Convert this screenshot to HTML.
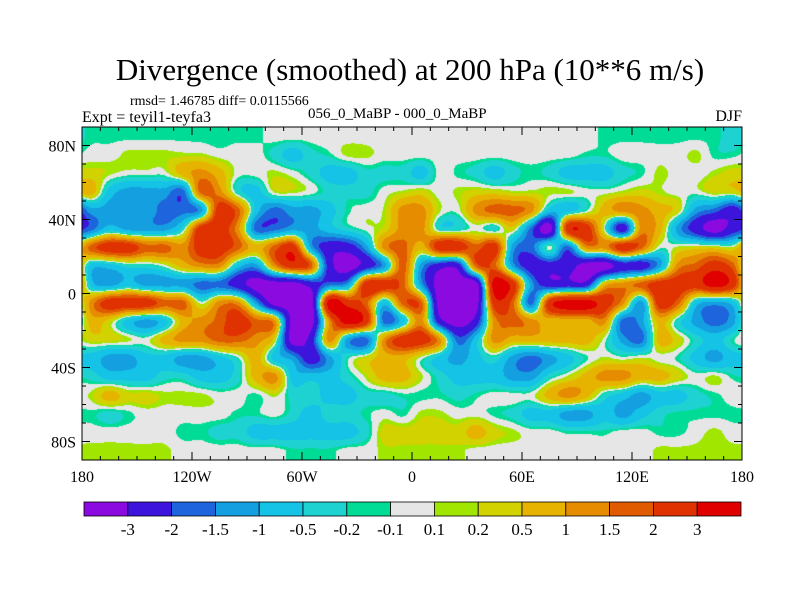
<!DOCTYPE html>
<html><head><meta charset="utf-8"><style>
body{margin:0;background:#fff;width:800px;height:600px;overflow:hidden;position:relative;font-family:"Liberation Serif",serif;}
.t{position:absolute;white-space:nowrap;color:#000;}
</style></head><body>
<div class="t" style="left:0;width:820px;text-align:center;top:52px;font-size:31px;">Divergence (smoothed) at 200 hPa (10**6 m/s)</div>
<div class="t" style="left:130px;top:94px;font-size:14px;">rmsd= 1.46785 diff= 0.0115566</div>
<div class="t" style="left:82px;top:109px;font-size:16px;">Expt = teyil1-teyfa3</div>
<div class="t" style="left:308px;top:106px;font-size:15px;">056_0_MaBP - 000_0_MaBP</div>
<div class="t" style="right:58px;top:108px;font-size:16px;">DJF</div>
<canvas id="cv" width="660" height="333" style="position:absolute;left:82px;top:127px;"></canvas>
<svg id="ov" width="800" height="600" style="position:absolute;left:0;top:0;"></svg>
<script>
const levels=[-3,-2,-1.5,-1,-0.5,-0.2,-0.1,0.1,0.2,0.5,1,1.5,2,3];
const levelLabels=["-3","-2","-1.5","-1","-0.5","-0.2","-0.1","0.1","0.2","0.5","1","1.5","2","3"];
const colors=["#8a0ae0","#3c14dc","#1e64dc","#14a0e0","#14c3e6","#1ed2d2","#00dc96","#e6e6e6","#a0e600","#d2d200","#e6b400","#e68c00","#e05a00","#e03200","#e00000"];
const lats=[85,75,65,55,45,35,25,15,5,-5,-15,-25,-35,-45,-55,-65,-75,-85];
const lons=[-175,-165,-155,-145,-135,-125,-115,-105,-95,-85,-75,-65,-55,-45,-35,-25,-15,-5,5,15,25,35,45,55,65,75,85,95,105,115,125,135,145,155,165,175];
const latTicks=[80,40,0,-40,-80];
const latLabels=["80N","40N","0","40S","80S"];
const lonTicks=[-180,-120,-60,0,60,120,180];
const lonLabels=["180","120W","60W","0","60E","120E","180"];
const row0=[-0.15,-0.15,-0.15,-0.15,-0.15,-0.15,-0.15,-0.15,-0.15,-0.15,0,0,0,0,0,0,0,0,0,0,0,0,0,0,0,0,0,0,-0.15,-0.15,-0.15,-0.15,-0.15,-0.15,-0.15,-0.3];
const row1=[0,0,0.15,0.15,0.15,0.15,0.15,0,0,0,-0.3,-0.7,-0.3,-0.15,0.15,0.15,0,0,0,0,0,0,0,0,0,0,0,-0.15,-0.15,0,0,0,0,0.15,-0.15,-0.15];
const row2=[0.3,0.15,0,0,0,0.7,1.2,0.7,0,0,0.15,0,-0.3,-0.7,-0.7,-0.3,-0.3,-0.3,-0.7,0,-0.15,-0.3,-0.7,-0.3,-0.15,-0.3,-0.7,-0.7,-0.7,-0.3,-0.15,0.15,0,0,0.15,0.3];
const row3=[0.7,-0.7,-1.2,-1.2,-1.2,-1.7,1.7,1.2,-0.3,-0.7,0.15,0.15,0,-0.3,-0.3,-0.3,0,0.15,0.3,0,0.15,0.3,0.3,0.15,0.15,0.15,0.15,0,0,0.15,0.3,0.15,0,0,0.3,0.3];
const row4=[-1.2,-1.2,-1.2,-1.2,-1.7,-1.7,-1.2,2.5,1.7,-0.7,-1.7,-1.2,-1.2,-0.7,-0.15,0,0.15,1.2,1.2,0.15,0,1.2,1.7,1.7,1.2,-0.7,-0.7,-0.15,0.7,1.2,1.2,0.7,0.3,-1.2,-1.7,-2.5];
const row5=[-1.7,-0.7,-1.2,-1.2,-1.2,-0.3,2.5,2.5,1.2,-1.7,-1.7,-1.2,-1.2,-0.7,-0.3,0,0.3,1.2,1.2,-0.3,-0.3,0,-0.3,0.3,-1.7,-3.5,2.5,2.5,0,-2.5,1.2,0.7,-1.2,-2.5,-3.5,-2.5];
const row6=[1.7,2.5,2.5,1.7,1.7,1.2,2.5,2.5,1.7,0.7,1.7,2.5,-1.2,-2.5,-2.5,-1.2,1.2,1.7,0.7,2.5,2.5,1.7,2.5,-1.2,-1.7,0,-1.7,1.2,1.2,2.5,1.7,0,0.15,0.3,0.3,0.15];
const row7=[-0.7,-0.7,-0.3,-0.3,0,0.7,1.2,1.2,-0.7,-1.2,1.2,2.5,1.7,-2.5,-3.5,-2.5,-1.2,1.7,-1.2,-2.5,-2.5,1.7,1.7,-1.2,-2.5,-2.5,-2.5,-3.5,-3.5,-2.5,-2.5,-1.2,1.2,1.7,2.5,1.7];
const row8=[-0.7,-1.2,-0.7,-1.2,-1.2,-1.2,-1.7,-1.7,-2.5,-3.5,-3.5,-3.5,-2.5,-1.7,-1.2,2.5,2.5,1.7,-1.2,-3.5,-3.5,-3.5,3.5,2.5,-1.2,-2.5,-2.5,-2.5,0.7,1.2,1.7,2.5,2.5,2.5,3.5,2.5];
const row9=[1.2,2.5,2.5,2.5,1.7,1.7,0,1.2,1.2,-1.2,-3.5,-3.5,-3.5,3.5,2.5,1.7,-0.7,1.7,1.7,-3.5,-3.5,-3.5,2.5,1.7,-1.7,2.5,3.5,3.5,2.5,1.2,-1.2,2.5,1.7,-0.7,-1.2,-0.7];
const row10=[0.7,0.3,-0.7,-1.2,-0.7,0.7,1.2,1.7,2.5,1.7,1.2,-3.5,-3.5,1.2,3.5,2.5,-1.7,-0.7,1.2,-2.5,-3.5,-2.5,1.2,1.7,1.2,0.7,0.7,0.7,1.2,-1.7,-1.2,0.7,-0.3,-1.2,-1.7,-1.2];
const row11=[0.3,0.3,0.15,0,0.7,1.2,1.2,1.7,1.7,1.2,0.3,-3.5,-2.5,1.2,-1.2,-1.7,1.2,2.5,2.5,1.2,-1.7,-0.7,1.2,0.7,0.7,0.7,0.7,0.7,0,-1.2,-1.7,0.7,0.3,-0.3,-0.7,-0.15];
const row12=[-0.7,-1.2,-1.2,-0.7,-0.7,-1.2,-1.2,-0.7,-0.15,0.7,-0.7,-1.2,-2.5,-1.2,-0.15,0.3,0.7,0.7,0,-0.7,-1.2,-0.7,-0.3,-1.2,-1.7,-1.2,-0.7,-0.15,0.15,0,0.15,0,-0.15,-0.7,-1.2,-0.7];
const row13=[-0.3,-0.7,-0.7,-0.7,-0.3,-0.3,-0.7,-0.7,-0.3,0.7,1.2,-0.7,-0.7,-0.7,-0.3,0.15,0.7,0.7,0.15,-0.3,-0.7,-0.7,-0.7,-1.2,-1.2,-0.3,0.15,0.7,1.2,1.2,0.7,0.7,0.3,0,0.15,-0.15];
const row14=[0.15,0.7,0.3,0.3,0.15,0.15,0.15,0,0,-0.15,0.15,-0.3,-0.3,-0.7,-0.7,-0.3,-0.3,-0.15,-0.15,-0.15,-0.3,-0.15,0,0,0,0.7,1.2,0.7,-0.3,-0.7,-1.2,-0.7,-0.7,-0.3,-0.15,0];
const row15=[-0.15,-0.3,-0.15,0,0,0,0,0,-0.15,-0.15,0,-0.3,-0.7,-0.3,-0.3,-0.15,0,-0.15,0.15,0.15,0,0,-0.15,-0.3,-0.7,-0.7,-1.2,-1.2,-0.7,-1.2,-0.7,-0.3,-0.15,-0.15,-0.15,-0.15];
const row16=[0,0,0,0,0,-0.15,-0.15,-0.3,-0.3,-0.7,-0.7,-0.7,-0.7,-0.7,-0.7,-0.3,0.3,0.3,0.3,0.3,0.3,0.7,0.3,0.15,0,0,-0.15,-0.15,-0.15,0,0,-0.15,-0.15,0,0.15,0];
const row17=[0.15,0.15,0.15,0.15,0.15,0,0,0,0,0,0,-0.15,-0.15,-0.15,0,0,0.15,0.15,0.15,0.15,0.15,0,0,0,0,0,0,0,0,0,0,0.15,0.15,0.15,0.15,0.15];
const grid=[row0,row1,row2,row3,row4,row5,row6,row7,row8,row9,row10,row11,row12,row13,row14,row15,row16,row17];

const X0=82,Y0=127,W=660,H=333;
const xOf=lon=>X0+(lon+180)/360*W;
const yOf=lat=>Y0+(90-lat)/180*H;
function binOf(v){let b=0;while(b<levels.length&&v>=levels[b])b++;return b;}
function hex(c){return [parseInt(c.substr(1,2),16),parseInt(c.substr(3,2),16),parseInt(c.substr(5,2),16)];}
const rgb=colors.map(hex);
function cr(p0,p1,p2,p3,t){return 0.5*((2*p1)+(-p0+p2)*t+(2*p0-5*p1+4*p2-p3)*t*t+(-p0+3*p1-3*p2+p3)*t*t*t);}
function gv(j,i){const n=lons.length;j=Math.max(0,Math.min(lats.length-1,j));i=((i%n)+n)%n;return grid[j][i];}
function field(lon,lat){
  let fi=(lon-lons[0])/10, fj=(lats[0]-lat)/10;
  fj=Math.max(0,Math.min(lats.length-1,fj));
  const i0=Math.floor(fi),j0=Math.floor(fj),tx=fi-i0,ty=fj-j0;
  const r=[];
  for(let dj=-1;dj<=2;dj++){r.push(cr(gv(j0+dj,i0-1),gv(j0+dj,i0),gv(j0+dj,i0+1),gv(j0+dj,i0+2),tx));}
  return cr(r[0],r[1],r[2],r[3],ty);
}
const cv=document.getElementById('cv');const ctx=cv.getContext('2d');
const img=ctx.createImageData(W,H);
for(let py=0;py<H;py++){const lat=90-(py+0.5)/H*180;
 for(let px=0;px<W;px++){const lon=-180+(px+0.5)/W*360;
  const c=rgb[binOf(field(lon,lat))];const k=(py*W+px)*4;
  img.data[k]=c[0];img.data[k+1]=c[1];img.data[k+2]=c[2];img.data[k+3]=255;}}
ctx.putImageData(img,0,0);

const NS='http://www.w3.org/2000/svg';const ov=document.getElementById('ov');
function mk(t,a){const e=document.createElementNS(NS,t);for(const k in a)e.setAttribute(k,a[k]);ov.appendChild(e);return e;}
const fr=mk('rect',{x:X0,y:Y0,width:W,height:H,fill:'none',stroke:'#000','stroke-width':1});


for(let lon=-170;lon<180;lon+=10){const x=xOf(lon);const L=(lon%60===0)?8:4;
 mk('line',{x1:x,y1:Y0+H,x2:x,y2:Y0+H-L,stroke:'#000'});mk('line',{x1:x,y1:Y0,x2:x,y2:Y0+L,stroke:'#000'});}
for(let lat=-80;lat<=80;lat+=10){const y=yOf(lat);const L=(lat%40===0)?8:4;
 mk('line',{x1:X0,y1:y,x2:X0+L,y2:y,stroke:'#000'});mk('line',{x1:X0+W,y1:y,x2:X0+W-L,y2:y,stroke:'#000'});}
latTicks.forEach((lat,i)=>{const t=mk('text',{x:X0-6,y:yOf(lat)+6,'text-anchor':'end','font-size':16,'font-family':'Liberation Serif, serif'});t.textContent=latLabels[i];
 
 });
lonTicks.forEach((lon,i)=>{const t=mk('text',{x:xOf(lon),y:482,'text-anchor':'middle','font-size':16,'font-family':'Liberation Serif, serif'});t.textContent=lonLabels[i];
 
 });
const CX=84,CW=657,CY=502,CH=14,bw=CW/colors.length;
colors.forEach((c,i)=>{const r=mk('rect',{x:CX+i*bw,y:CY,width:bw,height:CH,fill:c,stroke:'#000','stroke-width':0.8});
 
 });
levelLabels.forEach((s,i)=>{const t=mk('text',{x:CX+(i+1)*bw,y:535,'text-anchor':'middle','font-size':17,'font-family':'Liberation Serif, serif'});t.textContent=s;
 
 });
</script>
</body></html>
